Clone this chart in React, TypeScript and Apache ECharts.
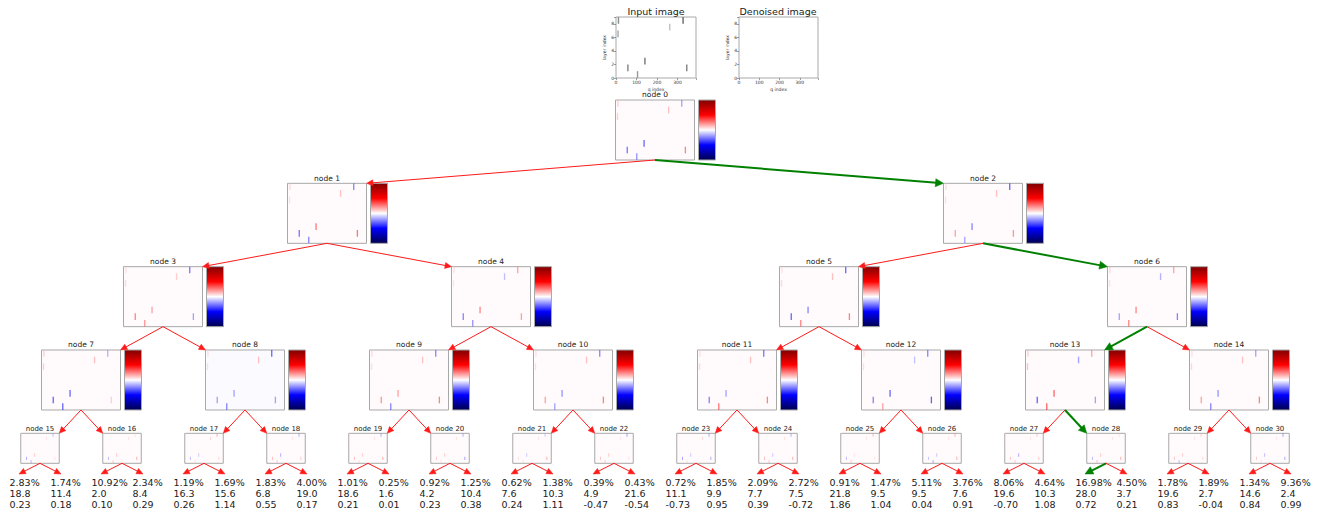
import React, { useEffect, useRef } from "react";
import * as echarts from "echarts";

// ---------------- data ----------------
const Q_MAX = 390;
const LAYER_MAX = 9;
// positions of the active strokes in the input image: q index and layer index (cell layer..layer+1)
const strokeQ = [12, 10, 58, 105, 141, 262, 327, 345];
const strokeLayer = [8, 6, 1, 0, 2, 7, 8, 1];
// darkness of the strokes in the input image (0 = white, 1 = black)
const inputDarkness = [0.45, 0.35, 0.5, 0.4, 0.55, 0.25, 0.6, 0.5];
// node weights for each stroke (seismic colour map, -1 .. 1)
const nodeWeights: number[][] = [
  [0.15, 0.15, -0.45, -0.35, -0.5, 0.2, -0.3, 0.4],
  [0.12, 0.1, -0.45, -0.4, 0.45, 0.2, -0.4, 0.45],
  [0.1, 0.1, 0.3, -0.3, -0.4, 0.2, -0.5, 0.35],
  [0.1, 0.12, 0.4, 0.35, 0.3, 0.15, -0.45, -0.3],
  [0.1, 0.08, -0.4, -0.35, 0.4, -0.2, 0.3, 0.3],
  [0.1, 0.12, -0.5, 0.4, -0.4, 0.2, -0.5, 0.4],
  [0.12, 0.1, -0.3, 0.4, 0.4, -0.25, 0.3, -0.4],
  [0.15, 0.15, -0.5, -0.5, -0.5, 0.2, -0.25, 0.15],
  [0.1, 0.1, -0.3, -0.4, -0.3, 0.2, -0.5, -0.3],
  [0.12, 0.1, 0.35, -0.4, 0.3, 0.2, -0.4, 0.4],
  [0.1, 0.1, 0.3, -0.3, -0.35, 0.2, -0.4, 0.4],
  [0.1, 0.12, -0.4, 0.45, -0.3, 0.2, -0.45, 0.4],
  [0.1, 0.1, -0.4, 0.3, -0.5, -0.2, -0.4, -0.5],
  [0.15, 0.2, -0.5, 0.5, 0.5, -0.3, 0.3, -0.3],
  [0.1, 0.12, 0.3, -0.4, -0.35, 0.2, -0.3, 0.4],
  [0.05, 0.05, -0.3, -0.25, 0.2, 0.1, -0.25, 0.1],
  [0.05, 0.05, -0.25, 0.2, 0.2, 0.1, 0.1, 0.3],
  [0.05, 0.05, -0.25, 0.1, -0.2, 0.15, 0.3, 0.15],
  [0.05, 0.05, 0.25, 0.2, -0.3, 0.1, -0.3, 0.2],
  [0.05, 0.05, 0.25, 0.1, 0.2, 0.1, -0.3, 0.3],
  [0.05, 0.05, 0.2, 0.1, 0.2, 0.1, -0.3, -0.35],
  [0.05, 0.05, 0.1, 0.1, -0.2, 0.1, -0.2, 0.3],
  [0.05, 0.05, 0.2, 0.2, 0.2, 0.1, -0.35, 0.1],
  [0.05, 0.05, -0.35, 0.1, -0.2, 0.15, -0.3, -0.3],
  [0.05, 0.05, 0.25, 0.2, -0.2, 0.1, -0.3, 0.3],
  [0.05, 0.05, -0.25, 0.2, 0.1, 0.1, 0.25, 0.1],
  [0.05, 0.05, -0.2, -0.3, -0.2, 0.1, 0.3, 0.3],
  [0.05, 0.05, 0.2, 0.2, -0.3, 0.1, 0.2, 0.2],
  [0.05, 0.05, -0.25, 0.25, 0.2, 0.1, 0.1, 0.3],
  [0.05, 0.05, 0.2, -0.25, 0.2, 0.1, 0.15, 0.15],
  [0.05, 0.05, 0.2, 0.1, -0.25, 0.1, -0.35, -0.3],
];
const negativeTintNodes = [8];
// decision path (green)
const pathNodes = [0, 2, 6, 13, 28];
const chosenLeafChild = 26;
// leaf outputs (children of nodes 15..30, left then right)
const leafPct = [2.83, 1.74, 10.92, 2.34, 1.19, 1.69, 1.83, 4.0, 1.01, 0.25, 0.92, 1.25, 0.62, 1.38, 0.39, 0.43, 0.72, 1.85, 2.09, 2.72, 0.91, 1.47, 5.11, 3.76, 8.06, 4.64, 16.98, 4.5, 1.78, 1.89, 1.34, 9.36];
const leafMean = [18.8, 11.4, 2.0, 8.4, 16.3, 15.6, 6.8, 19.0, 18.6, 1.6, 4.2, 10.4, 7.6, 10.3, 4.9, 21.6, 11.1, 9.9, 7.7, 7.5, 21.8, 9.5, 9.5, 7.6, 19.6, 10.3, 28.0, 3.7, 19.6, 2.7, 14.6, 2.4];
const leafScore = [0.23, 0.18, 0.1, 0.29, 0.26, 1.14, 0.55, 0.17, 0.21, 0.01, 0.23, 0.38, 0.24, 1.11, -0.47, -0.54, -0.73, 0.95, 0.39, -0.72, 1.86, 1.04, 0.04, 0.91, -0.7, 1.08, 0.72, 0.21, 0.83, -0.04, 0.84, 0.99];
const xTicks = [0, 100, 200, 300];
const yTicks = [0, 2, 4, 6, 8];

// ---------------- helpers ----------------
const FONT = '"DejaVu Sans", Verdana, sans-serif';

function seismic(t: number): string {
  const stops = [
    [0, 0, 0, 0.3],
    [0.25, 0, 0, 1],
    [0.5, 1, 1, 1],
    [0.75, 1, 0, 0],
    [1, 0.5, 0, 0],
  ];
  t = Math.max(0, Math.min(1, t));
  for (let k = 0; k < stops.length - 1; k++) {
    const a = stops[k], b = stops[k + 1];
    if (t <= b[0]) {
      const f = (t - a[0]) / (b[0] - a[0]);
      const c = [1, 2, 3].map((j) => Math.round(255 * (a[j] + (b[j] - a[j]) * f)));
      return `rgb(${c[0]},${c[1]},${c[2]})`;
    }
  }
  return "rgb(128,0,0)";
}

const levelOf = (n: number) => Math.floor(Math.log2(n + 1));
const indexOf = (n: number) => n - (Math.pow(2, levelOf(n)) - 1);
const cxOf = (l: number, i: number) => -1 + 82 * Math.pow(2, 4 - l) * (i + 0.5);
const topOf = (l: number) => 100 + 83.33 * l;
const bwOf = (l: number) => (l < 4 ? 79 : 38.5);
const bhOf = (l: number) => (l < 4 ? 60 : 30);

function buildOption() {
  const grids: any[] = [];
  const xAxes: any[] = [];
  const yAxes: any[] = [];
  const series: any[] = [];
  const graphics: any[] = [];

  const text = (t: string, x: number, y: number, size: number, align = "center", vAlign = "middle", color = "#222") => {
    graphics.push({
      type: "text",
      x,
      y,
      z: 20,
      style: {
        text: t,
        font: `${size}px ${FONT}`,
        fill: color,
        align,
        verticalAlign: vAlign,
        textAlign: align,
        textVerticalAlign: vAlign,
      },
    });
  };

  const arrow = (x1: number, y1: number, x2: number, y2: number, green: boolean) => {
    const color = green ? "#008000" : "#ff1a1a";
    const lw = green ? 2 : 1;
    const hl = green ? 8 : 6.5;
    const hw = green ? 4 : 3;
    const dx = x2 - x1, dy = y2 - y1;
    const len = Math.hypot(dx, dy);
    const ux = dx / len, uy = dy / len;
    const bx = x2 - ux * hl, by = y2 - uy * hl;
    graphics.push({ type: "line", z: 10, shape: { x1, y1, x2: bx + ux, y2: by + uy }, style: { stroke: color, lineWidth: lw } });
    graphics.push({
      type: "polygon",
      z: 11,
      shape: { points: [[x2, y2], [bx - uy * hw, by + ux * hw], [bx + uy * hw, by - ux * hw]] },
      style: { fill: color, stroke: color, lineWidth: 0.5 },
    });
  };

  const addImage = (left: number, top: number, w: number, h: number, data: number[][], mode: "gray" | "seismic" | "none", bg: string, axes: boolean, strokePx: number, opacity: number) => {
    const gi = grids.length;
    grids.push({ left, top, width: w, height: h, show: true, borderColor: "#a8a8a8", borderWidth: 1, backgroundColor: bg, containLabel: false });
    xAxes.push({
      gridIndex: gi,
      type: "value",
      min: 0,
      max: Q_MAX,
      interval: 100,
      show: axes,
      axisLine: { show: false },
      axisTick: { show: true, length: 2, lineStyle: { color: "#444", width: 0.5 } },
      axisLabel: { fontSize: 4.5, margin: 2, color: "#333", fontFamily: FONT, formatter: (v: number) => (xTicks.indexOf(v) >= 0 ? String(v) : "") },
      splitLine: { show: false },
      name: axes ? "q index" : "",
      nameLocation: "middle",
      nameGap: 8.5,
      nameTextStyle: { fontSize: 4.5, color: "#333", fontFamily: FONT },
    });
    yAxes.push({
      gridIndex: gi,
      type: "value",
      min: 0,
      max: LAYER_MAX,
      interval: 2,
      show: axes,
      axisLine: { show: false },
      axisTick: { show: true, length: 2, lineStyle: { color: "#444", width: 0.5 } },
      axisLabel: { fontSize: 4.5, margin: 2, color: "#333", fontFamily: FONT, formatter: (v: number) => (yTicks.indexOf(v) >= 0 ? String(v) : "") },
      splitLine: { show: false },
      name: axes ? "layer index" : "",
      nameLocation: "middle",
      nameRotate: 90,
      nameGap: 7.5,
      nameTextStyle: { fontSize: 4.5, color: "#333", fontFamily: FONT },
    });
    series.push({
      type: "custom",
      xAxisIndex: gi,
      yAxisIndex: gi,
      silent: true,
      clip: true,
      data: mode === "none" ? [] : data,
      renderItem: (_p: any, api: any) => {
        const q = api.value(0), l = api.value(1), v = api.value(2);
        const a = api.coord([q, l + 1]);
        const b = api.coord([q, l]);
        const g = Math.round(255 * (1 - v));
        const fill = mode === "gray" ? `rgb(${g},${g},${g})` : seismic(0.5 + v / 2);
        return { type: "rect", shape: { x: a[0] - strokePx / 2, y: a[1], width: strokePx, height: b[1] - a[1] }, style: { fill, opacity } };
      },
    });
  };

  // top images
  const inputData = strokeQ.map((q, k) => [q, strokeLayer[k], inputDarkness[k]]);
  addImage(616, 17, 80, 61, inputData, "gray", "#ffffff", true, 1.4, 1);
  text("Input image", 656, 11.5, 9.5);
  addImage(739, 17, 79, 61, [], "none", "#ffffff", true, 1.5, 1);
  text("Denoised image", 778, 11.5, 9.5);

  // tree nodes
  for (let n = 0; n < 31; n++) {
    const l = levelOf(n), i = indexOf(n);
    const cx = cxOf(l, i), top = topOf(l), w = bwOf(l), h = bhOf(l);
    const data = strokeQ.map((q, k) => [q, strokeLayer[k], nodeWeights[n][k]]);
    const bg = negativeTintNodes.indexOf(n) >= 0 ? "#fafaff" : "#fffafb";
    addImage(cx - w / 2, top, w, h, data, "seismic", bg, false, l < 4 ? 1.3 : 1, l < 4 ? 0.6 : 0.5);
    text(`node ${n}`, cx, top - 1.2, l < 4 ? 7.5 : 7, "center", "bottom");
    if (l < 4) {
      graphics.push({
        type: "rect",
        z: 5,
        shape: { x: cx + w / 2 + 4, y: top, width: 17, height: h },
        style: {
          fill: new echarts.graphic.LinearGradient(0, 0, 0, 1, [
            { offset: 0, color: "#800000" },
            { offset: 0.25, color: "#ff0000" },
            { offset: 0.5, color: "#ffffff" },
            { offset: 0.75, color: "#0000ff" },
            { offset: 1, color: "#00004d" },
          ]),
          stroke: "#a8a8a8",
          lineWidth: 1,
        },
      });
      // arrows to children
      const bottom = top + h;
      for (const side of [0, 1]) {
        const c = 2 * n + 1 + side;
        const cl = l + 1, ci = indexOf(c);
        const ccx = cxOf(cl, ci), cw = bwOf(cl), ctop = topOf(cl);
        const tx = side === 0 ? ccx + cw / 2 : ccx - cw / 2;
        const green = pathNodes.indexOf(n) >= 0 && pathNodes.indexOf(c) >= 0;
        arrow(cx, bottom, tx, ctop, green);
      }
    } else {
      // leaf outputs
      const bottom = top + h;
      for (const side of [0, 1]) {
        const j = 2 * i + side;
        const tx = side === 0 ? cx - 21 : cx + 21;
        const green = n === pathNodes[pathNodes.length - 1] && j === chosenLeafChild;
        arrow(cx, bottom, tx, 474, green);
        const gx = 19.5 + 41 * j;
        text(`${leafPct[j].toFixed(2)}%`, gx - 10, 482, 9.5, "left", "middle", "#1a1a1a");
        text(`${leafMean[j].toFixed(1)}`, gx - 10, 493.4, 9.5, "left", "middle", "#1a1a1a");
        text(`${leafScore[j].toFixed(2)}`, gx - 10, 504.8, 9.5, "left", "middle", "#1a1a1a");
      }
    }
  }

  return {
    animation: false,
    backgroundColor: "#ffffff",
    textStyle: { fontFamily: FONT },
    grid: grids,
    xAxis: xAxes,
    yAxis: yAxes,
    series,
    graphic: { elements: graphics },
  };
}

export default function App() {
  const ref = useRef<HTMLDivElement>(null);
  useEffect(() => {
    if (!ref.current) return;
    const chart = echarts.init(ref.current, null, { renderer: "svg" });
    chart.setOption(buildOption());
    return () => chart.dispose();
  }, []);
  return <div ref={ref} style={{ position: "absolute", left: 0, top: 0, width: 1322, height: 509, background: "#fff" }} />;
}
